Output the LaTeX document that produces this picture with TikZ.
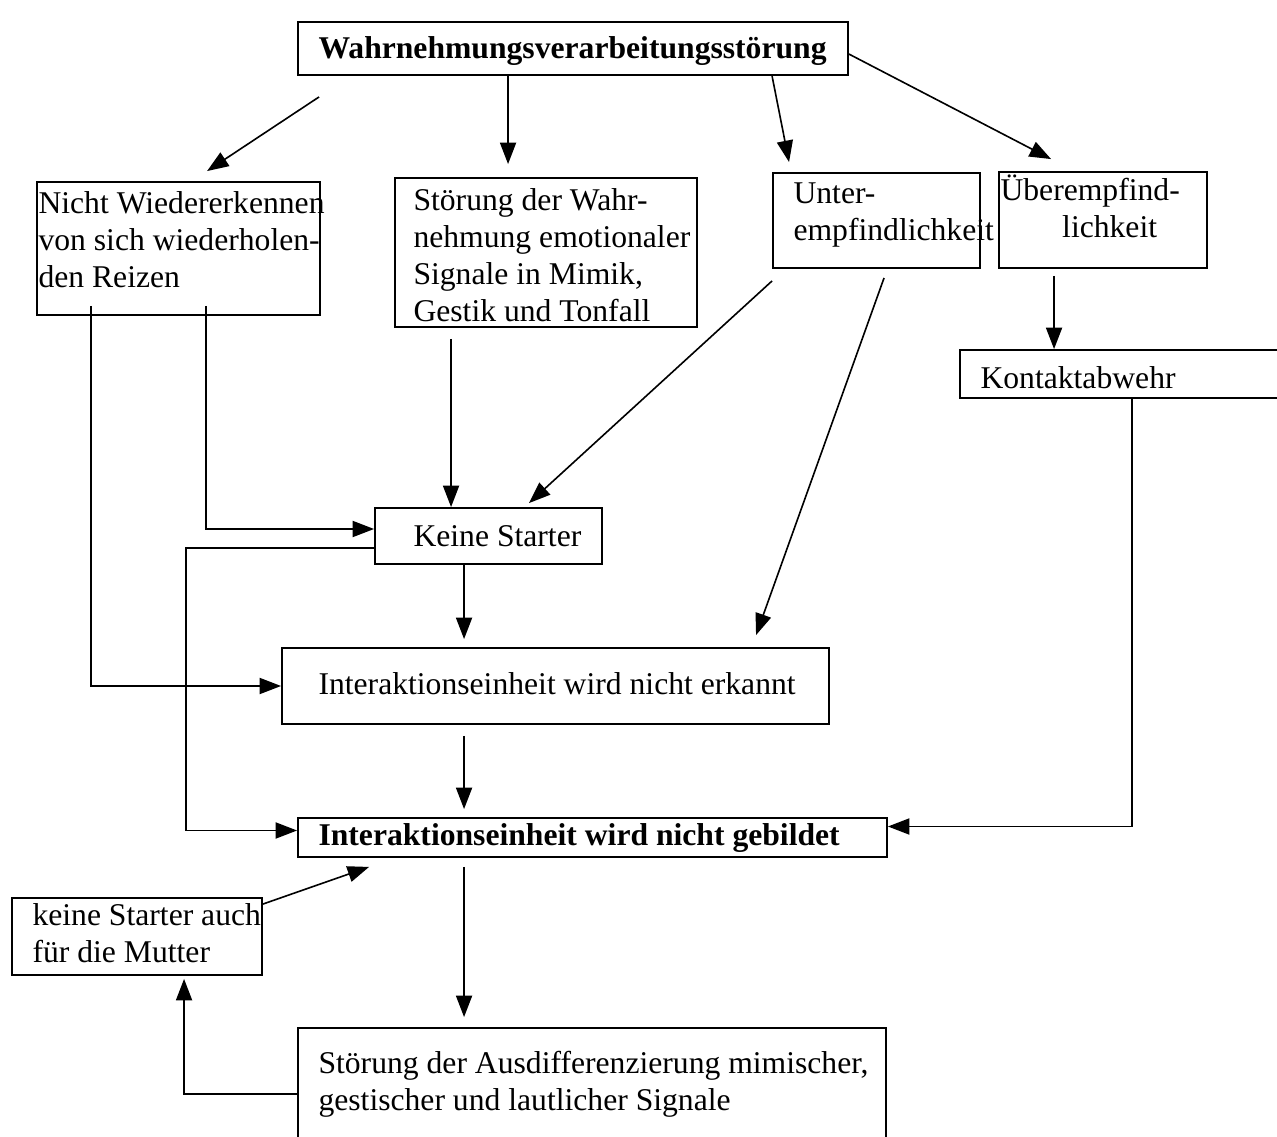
\documentclass[tikz,border=0pt]{standalone}
\usepackage{fontspec}
\setmainfont{Liberation Serif}
\usetikzlibrary{arrows.meta,calc,fit}

\begin{document}
\begin{tikzpicture}[x=0.0131cm, y=-0.0131cm,
    box/.style={draw, line width=0.7pt, inner sep=0pt},
    txt/.style={anchor=north west, align=left, inner sep=0pt, font=\fontsize{11.8}{13.8}\selectfont},
    arr/.style={-{Triangle[length=8pt,width=6pt]}, line width=0.6pt}]
    \useasboundingbox (0,0) rectangle (1277,1137);
    \node[box, fit={(298,22) (848,75)}] (wvs) {};
    \node[txt, font=\fontsize{11.8}{13.8}\selectfont\bfseries] (wvs-t) at (318,32) {\strut Wahrnehmungsverarbeitungsstörung};
    \node[box, fit={(37,182) (320,315)}] (nwr) {};
    \node[txt] (nwr-t) at (38,187) {\strut Nicht Wiedererkennen\\von sich wiederholen-\\den Reizen};
    \node[box, fit={(395,178) (697,327)}] (emo) {};
    \node[txt] (emo-t) at (413,184) {\strut Störung der Wahr-\\nehmung emotionaler\\Signale in Mimik,\\Gestik und Tonfall};
    \node[box, fit={(773,173) (980,268)}] (unt) {};
    \node[txt] (unt-t) at (793,177) {\strut Unter-\\empfindlichkeit};
    \node[box, fit={(999,172) (1207,268)}] (ueb) {};
    \node[txt] (ueb-t) at (1000,174) {\strut Überempfind-\\\hspace*{23pt}lichkeit};
    \node[box, fit={(960,350) (1295,398)}] (kab) {};
    \node[txt] (kab-t) at (980,362) {\strut Kontaktabwehr};
    \node[box, fit={(375,508) (602,564)}] (ks) {};
    \node[txt] (ks-t) at (413,520) {\strut Keine Starter};
    \node[box, fit={(282,648) (829,724)}] (ine) {};
    \node[txt] (ine-t) at (318,668) {\strut Interaktionseinheit wird nicht erkannt};
    \node[box, fit={(298,818) (887,857)}] (ing) {};
    \node[txt, font=\fontsize{11.8}{13.8}\selectfont\bfseries] (ing-t) at (318,819) {\strut Interaktionseinheit wird nicht gebildet};
    \node[box, fit={(12,898) (262,975)}] (mut) {};
    \node[txt] (mut-t) at (32,899) {\strut keine Starter auch\\für die Mutter};
    \node[box, fit={(298,1028) (886,1150)}] (aus) {};
    \node[txt] (aus-t) at (318,1047) {\strut Störung der Ausdifferenzierung mimischer,\\gestischer und lautlicher Signale};
    \draw[arr] ($(wvs.south west)+(22,21)$) -- ($(nwr.north west)+(171,-10)$);
    \draw[arr] ($(wvs.south west)+(211,0)$) -- ($(emo.north west)+(114,-13)$);
    \draw[arr] ($(wvs.south west)+(475,0)$) -- ($(unt.north west)+(17,-10)$);
    \draw[arr] ($(wvs.north east)+(0,33)$) -- ($(ueb.north west)+(53,-12)$);
    \draw[arr] ($(ueb.south west)+(56,7)$) -- ($(kab.north west)+(95,0)$);
    \draw[arr] ($(nwr.south west)+(55,-10)$) |- (ine.west);
    \draw[arr] ($(nwr.south west)+(170,-10)$) |- ($(ks.west)+(0,-7)$);
    \draw[arr] ($(emo.south west)+(57,11)$) -- ($(ks.north west)+(77,0)$);
    \draw[arr] ($(unt.south west)+(0,12)$) -- ($(ks.north west)+(155,-4)$);
    \draw[arr] ($(unt.south west)+(112,9)$) -- ($(ine.north west)+(475,-12)$);
    \draw[arr] ($(ks.west)+(0,12)$) -- ++(-188,0) |- ($(ing.west)+(0,-7)$);
    \draw[arr] ($(ks.south west)+(90,0)$) -- ($(ine.north west)+(183,-8)$);
    \draw[arr] ($(ine.south west)+(183,11)$) -- ($(ing.north west)+(167,-8)$);
    \draw[arr] ($(kab.south west)+(173,0)$) |- ($(ing.east)+(0,-11)$);
    \draw[arr] ($(mut.north east)+(0,7)$) -- ($(ing.south west)+(72,9)$);
    \draw[arr] ($(aus.north west)+(0,67)$) -| ($(mut.south west)+(173,3)$);
    \draw[arr] ($(ing.south west)+(167,9)$) -- ($(aus.north west)+(167,-10)$);
\end{tikzpicture}
\end{document}
